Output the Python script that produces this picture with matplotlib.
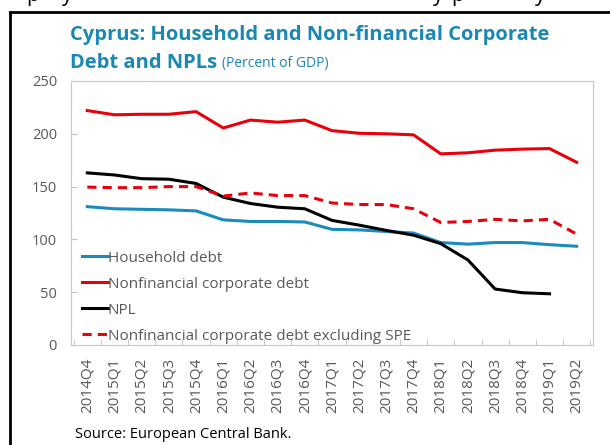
import numpy as np
import matplotlib
matplotlib.use('Agg')
import matplotlib.pyplot as plt

quarters = ['2014Q4', '2015Q1', '2015Q2', '2015Q3', '2015Q4', '2016Q1', '2016Q2',
            '2016Q3', '2016Q4', '2017Q1', '2017Q2', '2017Q3', '2017Q4', '2018Q1',
            '2018Q2', '2018Q3', '2018Q4', '2019Q1', '2019Q2']

household = [131, 129, 128.5, 128, 127, 118.5, 117, 117, 116.5, 109.5, 109, 107.5,
             106, 97, 95.5, 97, 97, 95, 93.5]
nfc_debt = [222, 218, 218.5, 218.5, 221, 205.5, 213, 211, 213, 203, 200.5, 200,
            199, 181, 182, 184.5, 185.5, 186, 173]
npl = [163, 161, 157.5, 157, 153, 140, 134, 130.5, 129, 118, 113.5, 108.5,
       104, 96, 80.5, 53, 49.5, 48.5, np.nan]
nfc_ex_spe = [149.5, 149, 149, 150, 150, 141, 144, 141.5, 141.5, 134.5, 133, 133,
              129, 116, 117, 119, 117.5, 119, 105]

plt.rcParams['font.family'] = ['Open Sans', 'DejaVu Sans']

W, H = 610, 445
fig = plt.figure(figsize=(W / 100, H / 100), dpi=100)

# frame left/top of the cropped page
fig.add_artist(plt.Line2D([10 / W, 10 / W], [0, 1 - 12 / H], color='black', lw=2,
                          transform=fig.transFigure))
fig.add_artist(plt.Line2D([10 / W, 1], [1 - 12 / H, 1 - 12 / H], color='black', lw=2,
                          transform=fig.transFigure))
# clipped text line from the page above (only descenders show)
for xp, ch in [(33, 'p'), (67, 'y'), (438, 'y'), (458, 'p'), (540, 'y')]:
    fig.text(xp / W, 1 - 0.5 / H, ch, fontsize=15, va='baseline', ha='center', color='black')

left, right, top, bottom = 71, 593, 81, 345
ax = fig.add_axes([left / W, 1 - bottom / H, (right - left) / W, (bottom - top) / H])

x = np.arange(len(quarters))
blue = '#1a8bbd'
red = '#e8000b'
ax.plot(x, household, color=blue, lw=2.2, label='Household debt')
ax.plot(x, nfc_debt, color=red, lw=2.2, label='Nonfinancial corporate debt')
ax.plot(x, npl, color='black', lw=2.2, label='NPL')
ax.plot(x, nfc_ex_spe, color=red, lw=2.2, ls=(0, (3, 2)),
        label='Nonfinancial corporate debt excluding SPE')

ax.set_xlim(-0.6, len(quarters) - 0.4)
ax.set_ylim(0, 250)
ax.set_yticks([0, 50, 100, 150, 200, 250])
ax.set_xticks(x)
ax.set_xticklabels(quarters, rotation=90)
ax.set_xticks(np.arange(-0.5, len(quarters), 1), minor=True)
ax.tick_params(axis='x', which='major', length=0, pad=9, labelsize=11, labelcolor='#595959')
ax.tick_params(axis='x', which='minor', direction='in', length=4, color='#bfbfbf')
ax.tick_params(axis='y', direction='in', length=4, color='#bfbfbf', pad=10,
               labelsize=10.5, labelcolor='#595959')
for s in ax.spines.values():
    s.set_color('#c8c8c8')

ax.legend(loc='lower left', bbox_to_anchor=(0.0, -0.035), frameon=False, fontsize=11,
          handlelength=1.7, handletextpad=0.0, labelspacing=0.72, labelcolor='#595959',
          borderaxespad=0.3)

title_c = '#1a87b5'
fig.text(70 / W, 1 - 35 / H, 'Cyprus: Household and Non-financial Corporate',
         fontsize=14.5, fontweight='bold', color=title_c, va='center')
t2 = fig.text(70 / W, 1 - 63 / H, 'Debt and NPLs', fontsize=14.5, fontweight='bold',
              color=title_c, va='center')
fig.canvas.draw()
bb = t2.get_window_extent()
fig.text((bb.x1 + 5) / W, 1 - 64 / H, '(Percent of GDP)', fontsize=10, color=title_c,
         va='center')

fig.text(75 / W, 1 - 435 / H, 'Source: European Central Bank.', fontsize=10.5,
         color='black', va='center')

fig.savefig('out.png', dpi=100)
